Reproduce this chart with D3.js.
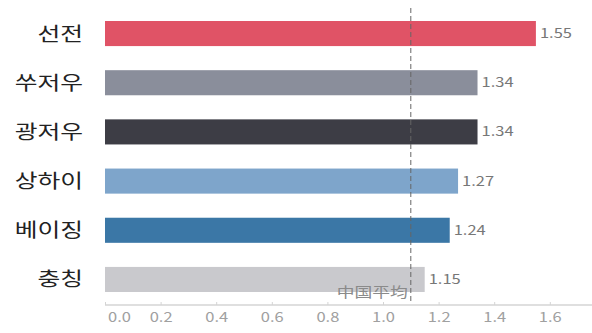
<!DOCTYPE html>
<html>
<head>
<meta charset="utf-8">
<script src="https://cdn.jsdelivr.net/npm/d3@7"></script>
<style>
  body { margin: 0; background: #fff; }
  text { font-family: "Noto Sans CJK KR", "Noto Sans", sans-serif; }
</style>
</head>
<body>
<script>
// data
var cities = ["선전", "쑤저우", "광저우", "상하이", "베이징", "충칭"];
var values = [1.55, 1.34, 1.34, 1.27, 1.24, 1.15];
var barColors = ["#e05366", "#8a8e9b", "#3d3d45", "#7ea5cb", "#3b77a6", "#c9c9cd"];
var ticks = [0.0, 0.2, 0.4, 0.6, 0.8, 1.0, 1.2, 1.4, 1.6];
var average = 1.1;
var averageLabel = "中国平均";

var width = 592,
    height = 333;

// text in the original is stretched sideways
var stretch = "scale(1.27,1)";

var x = d3.scaleLinear()
    .domain([0, 1])
    .range([105, 383]);

var y = d3.scaleBand()
    .domain(cities)
    .range([21, 292])
    .paddingInner(0.49)
    .paddingOuter(0);

var svg = d3.select("body")
    .append("svg")
    .attr("width", width)
    .attr("height", height);

// bars
svg.selectAll("rect.bar")
    .data(cities)
    .enter()
    .append("rect")
    .attr("class", "bar")
    .attr("x", x(0))
    .attr("y", d => y(d))
    .attr("width", (d, i) => x(values[i]) - x(0))
    .attr("height", y.bandwidth())
    .attr("fill", (d, i) => barColors[i]);

// value labels
svg.selectAll("text.val")
    .data(cities)
    .enter()
    .append("text")
    .attr("class", "val")
    .attr("transform", (d, i) => "translate(" + (x(values[i]) + 4) + "," + (y(d) + y.bandwidth() / 2) + ")" + stretch)
    .attr("dy", "0.35em")
    .attr("font-size", "13px")
    .attr("fill", "#777")
    .attr("font-family", "'Noto Sans', sans-serif")
    .text((d, i) => values[i].toFixed(2));

// city labels
svg.selectAll("text.city")
    .data(cities)
    .enter()
    .append("text")
    .attr("class", "city")
    .attr("transform", d => "translate(83," + (y(d) + y.bandwidth() / 2) + ")" + stretch)
    .attr("dy", "0.36em")
    .attr("text-anchor", "end")
    .attr("font-size", "19.5px")
    .attr("fill", "#222")
    .text(d => d);

// x axis
var axis = svg.append("g")
    .attr("transform", "translate(0,305)")
    .call(d3.axisBottom(x)
        .tickValues(ticks)
        .tickFormat(d3.format(".1f"))
        .tickSize(-3)
        .tickPadding(8));

axis.select(".domain")
    .attr("d", "M" + x(0) + ",0H" + width)
    .attr("stroke", "#d4d4d4")
    .attr("stroke-width", 1.5);
axis.selectAll(".tick line").attr("stroke", "#d4d4d4");
axis.selectAll(".tick text")
    .attr("font-size", "13px")
    .attr("fill", "#a0a0a0")
    .attr("font-family", "'Noto Sans', sans-serif")
    .attr("transform", stretch);
axis.selectAll(".tick text")
    .filter(d => d === 0)
    .attr("dx", "11px");

// average line
svg.append("line")
    .attr("x1", x(average))
    .attr("x2", x(average))
    .attr("y1", 8)
    .attr("y2", 304)
    .attr("stroke", "#666")
    .attr("stroke-width", 1)
    .attr("stroke-dasharray", "5,3");

svg.append("text")
    .attr("transform", "translate(" + (x(average) - 3) + ",297)" + stretch)
    .attr("text-anchor", "end")
    .attr("font-size", "14px")
    .attr("fill", "#8a8a8a")
    .attr("font-family", "'Noto Sans CJK SC', sans-serif")
    .text(averageLabel);
</script>
</body>
</html>
